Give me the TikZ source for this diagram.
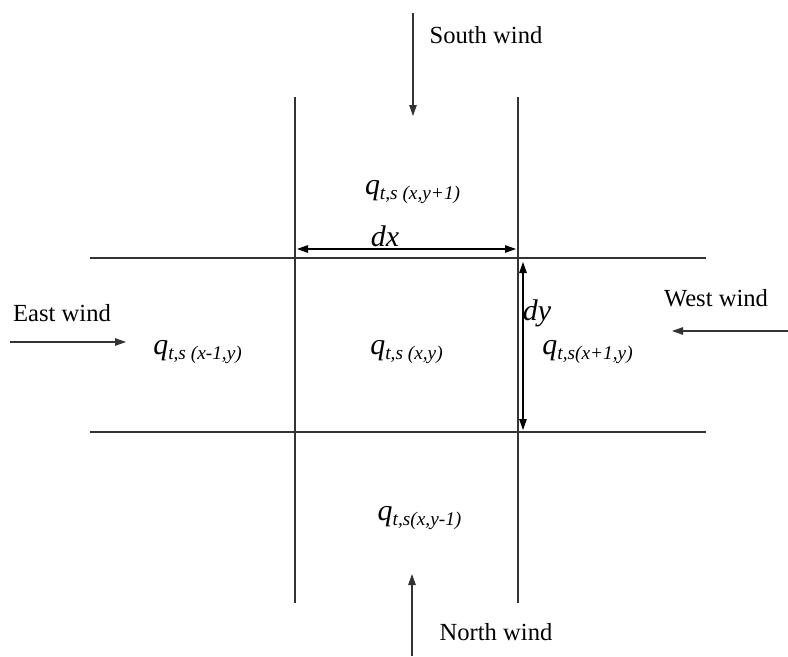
\documentclass[tikz,border=0pt]{standalone}
\usepackage{fontspec}
\setmainfont{Liberation Serif}
\usetikzlibrary{arrows.meta}
\tikzset{
  gridline/.style={black!80, line width=0.6pt},
  windarrow/.style={black!80, line width=0.6pt, -{Triangle[length=2.2mm, width=1.5mm]}},
  dimarrow/.style={black, line width=0.6pt, {Triangle[length=2.2mm, width=1.5mm]}-{Triangle[length=2.2mm, width=1.5mm]}},
  windlabel/.style={font=\fontsize{14}{16}\selectfont, inner sep=1pt},
  cellvalue/.style={font=\fontsize{17}{19}\selectfont\itshape, inner sep=1pt},
  dimlabel/.style={font=\fontsize{17}{19}\selectfont\itshape, inner sep=1pt}
}
\newcommand{\qcell}[1]{q\textsubscript{\fontsize{11}{12}\selectfont #1}}
\begin{document}
\begin{tikzpicture}
  \useasboundingbox (0,0) rectangle (15.76,13.12);

  % -- grid of cells ---------------------------------------------------
  \draw[gridline] (5.9,1.06) -- (5.9,11.18);
  \draw[gridline] (10.36,1.06) -- (10.36,11.18);
  \draw[gridline] (1.8,7.96) -- (14.12,7.96);
  \draw[gridline] (1.8,4.48) -- (14.12,4.48);

  % -- cell values -----------------------------------------------------
  \node[cellvalue] (qup)    at (8.26,9.28) {\qcell{t,s (x,y+1)}};
  \node[cellvalue] (qleft)  at (3.96,6.08) {\qcell{t,s (x-1,y)}};
  \node[cellvalue] (qmid)   at (8.14,6.08) {\qcell{t,s (x,y)}};
  \node[cellvalue] (qright) at (11.76,6.08) {\qcell{t,s(x+1,y)}};
  \node[cellvalue] (qdown)  at (8.4,2.76) {\qcell{t,s(x,y-1)}};

  % -- dimensions ------------------------------------------------------
  \coordinate (dxa) at (5.94,8.14);
  \coordinate (dxb) at (10.32,8.14);
  \coordinate (dya) at (10.46,7.88);
  \coordinate (dyb) at (10.46,4.52);
  \draw[dimarrow] (dxa) -- (dxb);
  \draw[dimarrow] (dya) -- (dyb);
  \node[dimlabel] (dx) at (7.7,8.4) {dx};
  \node[dimlabel] (dy) at (10.74,6.86) {dy};

  % -- winds -----------------------------------------------------------
  \node[windlabel] (south) at (9.72,12.42) {South wind};
  \node[windlabel] (north) at (9.92,0.48) {North wind};
  \node[windlabel] (east)  at (1.24,6.86) {East wind};
  \node[windlabel] (west)  at (14.32,7.16) {West wind};
  \coordinate (sfrom) at (8.26,12.86);
  \coordinate (sto)   at (8.26,10.8);
  \coordinate (nfrom) at (8.24,0.0);
  \coordinate (nto)   at (8.24,1.64);
  \coordinate (efrom) at (0.2,6.28);
  \coordinate (eto)   at (2.52,6.28);
  \coordinate (wfrom) at (15.76,6.5);
  \coordinate (wto)   at (13.44,6.5);
  \draw[windarrow] (sfrom) -- (sto);
  \draw[windarrow] (nfrom) -- (nto);
  \draw[windarrow] (efrom) -- (eto);
  \draw[windarrow] (wfrom) -- (wto);
\end{tikzpicture}
\end{document}
